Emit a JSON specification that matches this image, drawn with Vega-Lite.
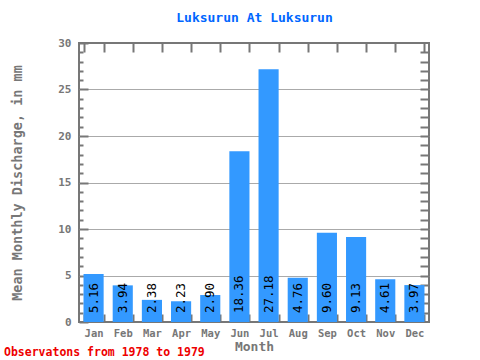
{
  "$schema": "https://vega.github.io/schema/vega-lite/v6.json",
  "width": 350,
  "height": 279,
  "autosize": {"type": "none"},
  "padding": {"left": 79, "top": 43, "right": 51, "bottom": 38},
  "background": "white",
  "title": {
    "text": "Observatons from 1978 to 1979",
    "orient": "bottom",
    "anchor": "start",
    "frame": "group",
    "dx": -75,
    "offset": -7,
    "color": "#ee0000",
    "font": "DejaVu Sans Mono",
    "fontSize": 11.5,
    "fontWeight": "bold"
  },
  "data": {
    "values": [
      {"month": "Jan", "value": 5.16},
      {"month": "Feb", "value": 3.94},
      {"month": "Mar", "value": 2.38},
      {"month": "Apr", "value": 2.23},
      {"month": "May", "value": 2.90},
      {"month": "Jun", "value": 18.36},
      {"month": "Jul", "value": 27.18},
      {"month": "Aug", "value": 4.76},
      {"month": "Sep", "value": 9.60},
      {"month": "Oct", "value": 9.13},
      {"month": "Nov", "value": 4.61},
      {"month": "Dec", "value": 3.97}
    ]
  },
  "resolve": {"axis": {"x": "independent", "y": "independent"}},
  "layer": [
    {
      "mark": {"type": "bar", "color": "#3399ff"},
      "encoding": {
        "x": {
          "field": "month", "type": "nominal", "sort": null,
          "scale": {"paddingInner": 0.31},
          "axis": {
            "title": "Month", "orient": "bottom", "labelAngle": 0,
            "tickBand": "extent", "tickSize": -8, "tickWidth": 2, "tickColor": "#777777",
            "labelPadding": 14, "domain": false, "grid": false,
            "labelFont": "DejaVu Sans Mono", "labelFontSize": 10.5, "labelFontWeight": "bold", "labelColor": "#777777",
            "titleFont": "DejaVu Sans Mono", "titleFontSize": 13, "titleFontWeight": "bold", "titleColor": "#777777",
            "titlePadding": 2
          }
        },
        "y": {
          "field": "value", "type": "quantitative",
          "scale": {"domain": [0, 30], "nice": false},
          "axis": {
            "title": "Mean Monthly Discharge, in mm", "orient": "left",
            "values": [0,1,2,3,4,5,6,7,8,9,10,11,12,13,14,15,16,17,18,19,20,21,22,23,24,25,26,27,28,29,30],
            "labelExpr": "datum.value % 5 == 0 ? datum.label : ''",
            "labelOverlap": false, "labelBound": false, "labelFlush": false,
            "tickSize": {"condition": {"test": "datum.value % 5 == 0", "value": -9}, "value": -4},
            "tickWidth": 2, "tickColor": "#777777",
            "labelPadding": 17, "domain": false,
            "grid": true, "gridColor": "#aaaaaa", "gridWidth": 1,
            "gridOpacity": {"condition": {"test": "datum.value % 5 == 0 && datum.value > 0 && datum.value < 30", "value": 1}, "value": 0},
            "labelFont": "DejaVu Sans Mono", "labelFontSize": 11, "labelFontWeight": "bold", "labelColor": "#777777",
            "titleFont": "DejaVu Sans Mono", "titleFontSize": 13.5, "titleFontWeight": "bold", "titleColor": "#777777",
            "titlePadding": 33
          }
        }
      }
    },
    {
      "mark": {"type": "text", "angle": 270, "align": "left", "baseline": "middle", "dx": 9, "font": "DejaVu Sans Mono", "fontSize": 12.5, "color": "black"},
      "encoding": {
        "x": {"field": "month", "type": "nominal", "sort": null, "axis": null},
        "y": {"datum": 0, "axis": null},
        "text": {"field": "value", "type": "quantitative", "format": ".2f"}
      }
    },
    {
      "mark": {"type": "bar", "opacity": 0},
      "encoding": {
        "x": {
          "field": "month", "type": "nominal", "sort": null,
          "axis": {
            "orient": "top", "title": "Luksurun At Luksurun", "labels": false,
            "tickBand": "extent", "tickSize": -9, "tickWidth": 2, "tickColor": "#777777",
            "domain": false,
            "titleFont": "DejaVu Sans Mono", "titleFontSize": 13, "titleFontWeight": "bold", "titleColor": "#0066ff",
            "titlePadding": 18
          }
        },
        "y": {
          "field": "value", "type": "quantitative",
          "axis": {
            "orient": "right", "title": null, "labels": false,
            "values": [1,2,3,4,5,6,7,8,9,10,11,12,13,14,15,16,17,18,19,20,21,22,23,24,25,26,27,28,29],
            "tickSize": -9, "tickWidth": 2, "tickColor": "#777777",
            "domain": false, "grid": false
          }
        }
      }
    }
  ],
  "config": {
    "view": {"stroke": "#777777", "strokeWidth": 2}
  }
}
